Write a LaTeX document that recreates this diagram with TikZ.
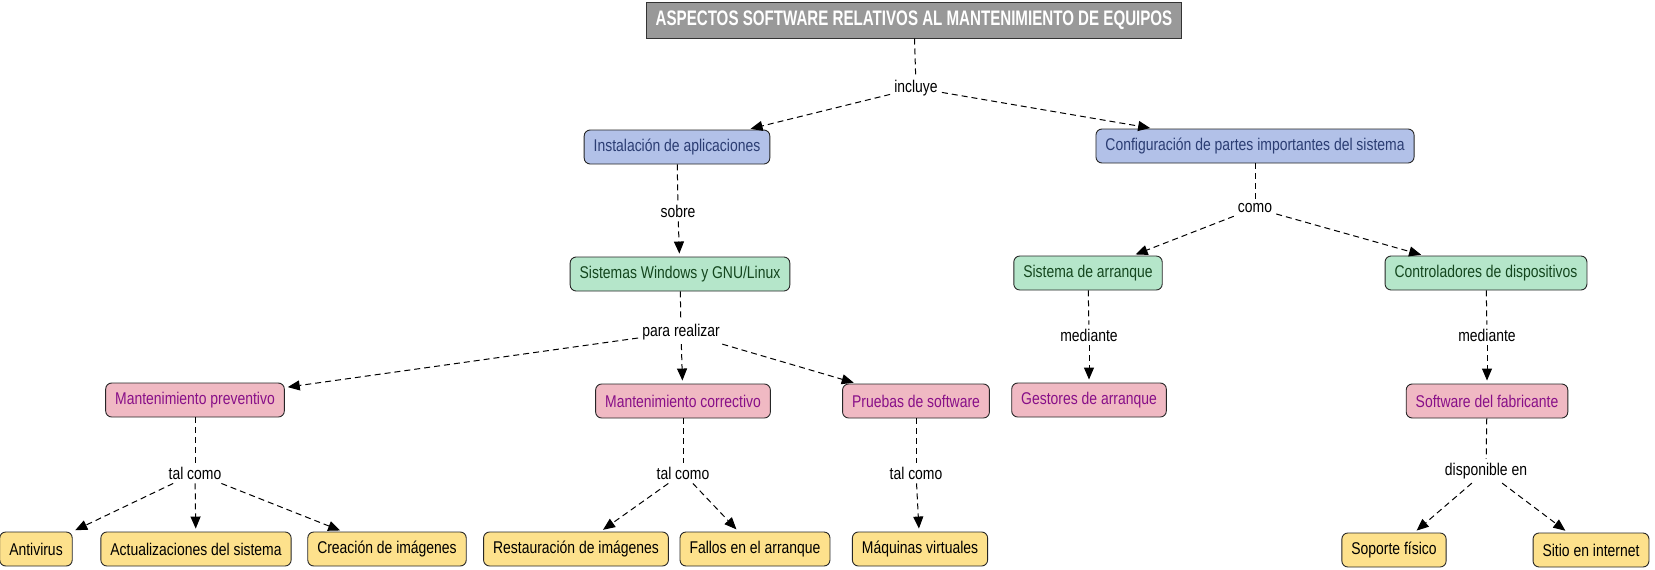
\documentclass[tikz,border=0pt]{standalone}
\usepackage{fontspec}
\setmainfont{Liberation Sans}[FakeStretch=0.82]
\newfontfamily\titlefont{Liberation Sans}[FakeStretch=0.72]
\usetikzlibrary{arrows.meta}
\definecolor{bluefill}{HTML}{B2C1E8}
\definecolor{bluetext}{HTML}{2B3D73}
\definecolor{greenfill}{HTML}{B5E6CA}
\definecolor{greentext}{HTML}{14461E}
\definecolor{pinkfill}{HTML}{F0B9C3}
\definecolor{pinktext}{HTML}{880F88}
\definecolor{yellowfill}{HTML}{FDE18C}
\definecolor{titlefill}{HTML}{999999}
\begin{document}
\begin{tikzpicture}[x=1pt,y=-1pt,
  box/.style={draw=black!85, line width=0.9pt, rounded corners=6pt, minimum height=34pt, inner xsep=9.5pt, inner ysep=0pt, font=\fontsize{17}{19}\selectfont},
  bluebox/.style={box, fill=bluefill, text=bluetext},
  greenbox/.style={box, fill=greenfill, text=greentext},
  pinkbox/.style={box, fill=pinkfill, text=pinktext},
  yellowbox/.style={box, fill=yellowfill, text=black},
  lbl/.style={inner sep=4pt, font=\fontsize{17}{19}\selectfont},
  conn/.style={dash pattern=on 6pt off 4pt, line width=1pt},
  arr/.style={conn, -{Triangle[length=12pt,width=10pt]}, shorten >=3pt}
]
\useasboundingbox (0,0) rectangle (1655,570);
% title
\node[draw=black!80, line width=1pt, fill=titlefill, text=white, minimum width=535pt, minimum height=36pt, font=\titlefont\bfseries\fontsize{21}{23}\selectfont] (title) at (914,20) {ASPECTOS SOFTWARE RELATIVOS AL MANTENIMIENTO DE EQUIPOS};
% level 1
\node[lbl] (incl) at (916,88) {incluye};
\node[bluebox] (inst) at (677,147) {Instalación de aplicaciones};
\node[bluebox] (conf) at (1255,146) {Configuración de partes importantes del sistema};
% level 2
\node[lbl] (sobre) at (678,211) {sobre};
\node[lbl] (como) at (1255,208) {como};
\node[greenbox] (sist) at (680,274) {Sistemas Windows y GNU/Linux};
\node[greenbox] (arr) at (1088,273) {Sistema de arranque};
\node[greenbox] (ctrl) at (1486,273) {Controladores de dispositivos};
% level 3
\node[lbl] (para) at (681,332) {para realizar};
\node[lbl] (medL) at (1089,335) {mediante};
\node[lbl] (medR) at (1487,335) {mediante};
\node[pinkbox] (mp) at (195,400) {Mantenimiento preventivo};
\node[pinkbox] (mc) at (683,401) {Mantenimiento correctivo};
\node[pinkbox] (ps) at (916,401) {Pruebas de software};
\node[pinkbox] (ga) at (1089,400) {Gestores de arranque};
\node[pinkbox] (sf) at (1487,401) {Software del fabricante};
% level 4
\node[lbl] (tcL) at (195,473) {tal como};
\node[lbl] (tcM) at (683,473) {tal como};
\node[lbl] (tcR) at (916,473) {tal como};
\node[lbl] (disp) at (1486,471) {disponible en};
\node[yellowbox] (anti) at (36,549) {Antivirus};
\node[yellowbox] (act) at (196,549) {Actualizaciones del sistema};
\node[yellowbox] (crea) at (387,549) {Creación de imágenes};
\node[yellowbox] (rest) at (576,549) {Restauración de imágenes};
\node[yellowbox] (fall) at (755,549) {Fallos en el arranque};
\node[yellowbox] (maq) at (920,549) {Máquinas virtuales};
\node[yellowbox] (sop) at (1394,550) {Soporte físico};
\node[yellowbox] (sit) at (1591,550) {Sitio en internet};
% connectors
\draw[conn] (title) -- (incl);
\draw[arr] (incl) -- (inst);
\draw[arr] (incl) -- (conf);
\draw[conn] (inst) -- (sobre);
\draw[arr] (sobre) -- (sist);
\draw[conn] (conf) -- (como);
\draw[arr] (como) -- (arr);
\draw[arr] (como) -- (ctrl);
\draw[conn] (sist) -- (para);
\draw[arr] (para) -- (mp);
\draw[arr] (para) -- (mc);
\draw[arr] (para) -- (ps);
\draw[conn] (arr) -- (medL);
\draw[arr] (medL) -- (ga);
\draw[conn] (ctrl) -- (medR);
\draw[arr] (medR) -- (sf);
\draw[conn] (mp) -- (tcL);
\draw[arr] (tcL) -- (anti);
\draw[arr] (tcL) -- (act);
\draw[arr] (tcL) -- (crea);
\draw[conn] (mc) -- (tcM);
\draw[arr] (tcM) -- (rest);
\draw[arr] (tcM) -- (fall);
\draw[conn] (ps) -- (tcR);
\draw[arr] (tcR) -- (maq);
\draw[conn] (sf) -- (disp);
\draw[arr] (disp) -- (sop);
\draw[arr] (disp) -- (sit);
\end{tikzpicture}
\end{document}
